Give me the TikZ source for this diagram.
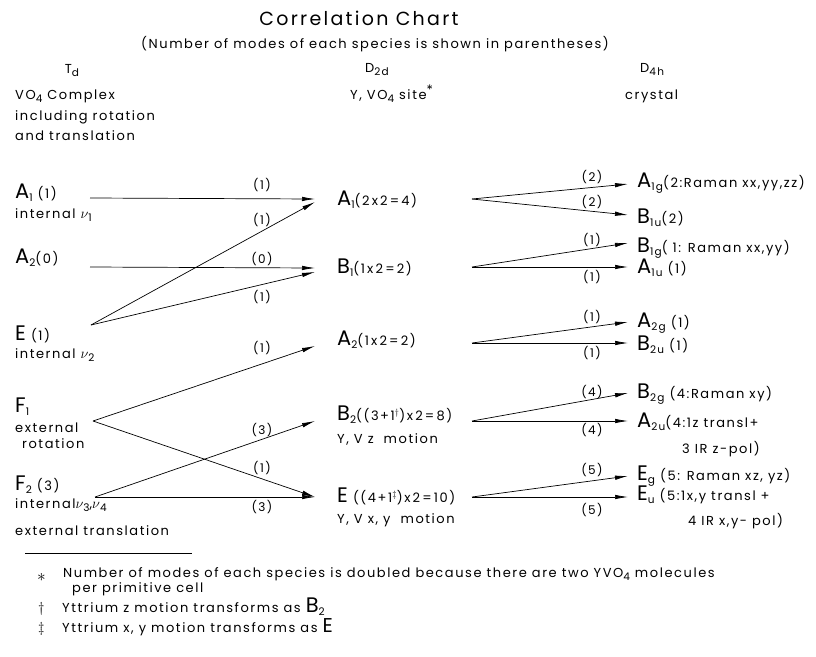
\documentclass[tikz,border=0pt]{standalone}
\usepackage{fontspec}
\setmainfont{Poppins}[LetterSpace=12]
\usepackage{amsmath}
\usetikzlibrary{arrows.meta, positioning}

\newcommand{\subtxt}[1]{\raisebox{-3.5pt}{\fontsize{10.5}{10}\selectfont #1}}
\newcommand{\Sym}[2]{{\fontsize{21}{20}\selectfont #1}\subtxt{#2}}
\newcommand{\nuv}{{\fontsize{15}{15}\selectfont$\nu$}}

\begin{document}
\begin{tikzpicture}[x=1pt, y=-1pt,
    txt/.style={inner sep=0pt, anchor=base west, font=\fontsize{13}{14}\selectfont},
    num/.style={inner sep=0pt, font=\fontsize{12}{13}\selectfont},
    corr/.style={-{Latex[length=13pt,width=4.5pt]}, line width=0.7pt}
  ]
    \useasboundingbox (0,0) rectangle (816,656);

    % headings
    \node[inner sep=0pt, anchor=base, font=\fontsize{19}{22}\selectfont] (title) at (359,25) {Correlation Chart};
    \node[txt, anchor=base] (subtitle) at (375,48) {(Number of modes of each species is shown in parentheses)};

    \node[txt, anchor=base] (Td) at (72,73) {T\subtxt{d}};
    \node[txt] (TdA) at (15,99) {VO\subtxt{4} Complex};
    \node[txt] (TdB) at (15,120) {including rotation};
    \node[txt] (TdC) at (15,140) {and translation};

    \node[txt] (D2d) at (365,72) {D\subtxt{2d}};
    \node[txt] (site) at (350,99) {Y, VO\subtxt{4} site\raisebox{5pt}{*}};

    \node[txt] (D4h) at (640,72) {D\subtxt{4h}};
    \node[txt] (cryst) at (625,99) {crystal};

    % T_d species
    \node[txt] (tA1) at (15,198) {\Sym{A}{1} (1)};
    \node[txt] (tA1n) at (15,218) {internal \nuv\subtxt{1}};
    \node[txt] (tA2) at (15,263) {\Sym{A}{2}(0)};
    \node[txt] (tE) at (15,340) {\Sym{E}{}\ (1)};
    \node[txt] (tEn) at (15,358) {internal \nuv\subtxt{2}};
    \node[txt] (tF1) at (15,412) {\Sym{F}{1}};
    \node[txt] (tF1n) at (15,432) {external};
    \node[txt] (tF1m) at (22,448) {rotation};
    \node[txt] (tF2) at (15,490) {\Sym{F}{2} (3)};
    \node[txt] (tF2n) at (15,508) {internal\nuv\subtxt{3},\nuv\subtxt{4}};
    \node[txt] (tF2m) at (15,535) {external translation};

    \coordinate (oA1) at (90,198);
    \coordinate (oA2) at (90,267);
    \coordinate (oE) at (91,325);
    \coordinate (oF1) at (93,421);
    \coordinate (oF2) at (95,497);

    % D_2d species
    \node[txt] (mA1) at (337,205) {\Sym{A}{1}(2\,x\,2\,=\,4)};
    \node[txt] (mB1) at (337,273) {\Sym{B}{1}(1\,x\,2\,=\,2)};
    \node[txt] (mA2) at (337,345) {\Sym{A}{2}(1\,x\,2\,=\,2)};
    \node[txt] (mB2) at (337,420) {\Sym{B}{2}((3+1$^\dagger$)x\,2\,=\,8)};
    \node[txt] (mB2n) at (337,443) {Y, V z\ \ motion};
    \node[txt] (mE) at (337,502) {\Sym{E}{}\ ((4+1$^\ddagger$)x\,2\,=\,10)};
    \node[txt] (mEn) at (337,523) {Y, V x, y\ \ motion};

    \coordinate (iA1) at (315,199);
    \coordinate (iB1) at (315,268);
    \coordinate (iA2) at (315,346);
    \coordinate (iB2) at (315,421);
    \coordinate (iE) at (315,497);

    \coordinate (mA1o) at (472,199);
    \coordinate (mB1o) at (472,267);
    \coordinate (mA2o) at (472,343);
    \coordinate (mB2o) at (472,421);
    \coordinate (mEo) at (472,497);

    % D_4h species
    \node[txt] (rA1g) at (637,187) {\Sym{A}{1g}(2:Raman xx,yy,zz)};
    \node[txt] (rB1u) at (637,223) {\Sym{B}{1u}(2)};
    \node[txt] (rB1g) at (637,252) {\Sym{B}{1g}( 1: Raman xx,yy)};
    \node[txt] (rA1u) at (637,273) {\Sym{A}{1u} (1)};
    \node[txt] (rA2g) at (637,327) {\Sym{A}{2g} (1)};
    \node[txt] (rB2u) at (637,350) {\Sym{B}{2u} (1)};
    \node[txt] (rB2g) at (637,398) {\Sym{B}{2g} (4:Raman xy)};
    \node[txt] (rA2u) at (637,427) {\Sym{A}{2u}(4:1z\ transl+};
    \node[txt] (rA2ub) at (682,453) {3 IR\ z-pol)};
    \node[txt] (rEg) at (637,480) {\Sym{E}{g}\ (5: Raman xz, yz)};
    \node[txt] (rEu) at (637,500) {\Sym{E}{u}\ (5:1x,y\ transl +};
    \node[txt] (rEub) at (688,525) {4 IR x,y- pol)};

    \coordinate (iA1g) at (628,184);
    \coordinate (iB1u) at (628,215);
    \coordinate (iB1g) at (628,243);
    \coordinate (iA1u) at (628,267);
    \coordinate (iA2g) at (628,322);
    \coordinate (iB2u) at (628,343);
    \coordinate (iB2g) at (628,393);
    \coordinate (iA2u) at (628,421);
    \coordinate (iEg) at (628,476);
    \coordinate (iEu) at (628,497);

    % T_d -> D_2d
    \draw[corr] (oA1) -- (iA1);
    \draw[corr] (oE) -- ([yshift=-3pt]iA1);
    \draw[corr] (oA2) -- (iB1);
    \draw[corr] (oE) -- ([yshift=-4pt]iB1);
    \draw[corr] (oF1) -- (iA2);
    \draw[corr] (oF1) -- (iE);
    \draw[corr] (oF2) -- (iB2);
    \draw[corr] (oF2) -- (iE);

    \node[num] (l1) at (262,185) {(1)};
    \node[num] (l2) at (262,220) {(1)};
    \node[num] (l3) at (262,259) {(0)};
    \node[num] (l4) at (262,297) {(1)};
    \node[num] (l5) at (262,348) {(1)};
    \node[num] (l6) at (262,430) {(3)};
    \node[num] (l7) at (262,468) {(1)};
    \node[num] (l8) at (262,507) {(3)};

    % D_2d -> D_4h
    \draw[corr] (mA1o) -- (iA1g);
    \draw[corr] (mA1o) -- (iB1u);
    \draw[corr] (mB1o) -- (iB1g);
    \draw[corr] (mB1o) -- (iA1u);
    \draw[corr] (mA2o) -- (iA2g);
    \draw[corr] (mA2o) -- (iB2u);
    \draw[corr] (mB2o) -- (iB2g);
    \draw[corr] (mB2o) -- (iA2u);
    \draw[corr] (mEo) -- (iEg);
    \draw[corr] (mEo) -- (iEu);

    \node[num] (r1) at (592,177) {(2)};
    \node[num] (r2) at (592,202) {(2)};
    \node[num] (r3) at (592,240) {(1)};
    \node[num] (r4) at (592,277) {(1)};
    \node[num] (r5) at (592,317) {(1)};
    \node[num] (r6) at (592,353) {(1)};
    \node[num] (r7) at (592,392) {(4)};
    \node[num] (r8) at (592,430) {(4)};
    \node[num] (r9) at (592,470) {(5)};
    \node[num] (r10) at (592,510) {(5)};

    % footnotes
    \draw[line width=0.6pt] (25,553) -- (192,553);
    \node[txt] (fn1) at (37,581) {\fontsize{18}{18}\selectfont$\ast$};
    \node[txt] (fn1t) at (63,577) {Number of modes of each species is doubled because there are two YVO\subtxt{4} molecules};
    \node[txt] (fn1b) at (72,592) {per primitive cell};
    \node[txt] (fn2) at (38,612) {\fontsize{15}{15}\selectfont$\dagger$};
    \node[txt] (fn2t) at (62,612) {Yttrium z motion transforms as \Sym{B}{2}};
    \node[txt] (fn3) at (38,632) {\fontsize{15}{15}\selectfont$\ddagger$};
    \node[txt] (fn3t) at (62,632) {Yttrium x, y motion transforms as {\fontsize{20}{20}\selectfont E}};
  \end{tikzpicture}
\end{document}
